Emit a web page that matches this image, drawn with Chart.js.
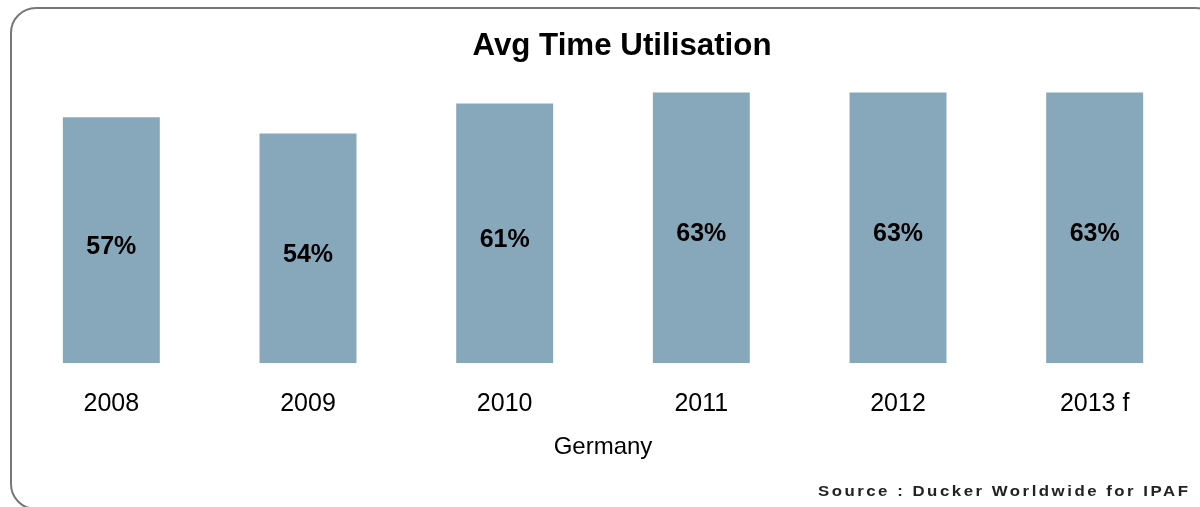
<!DOCTYPE html>
<html>
<head>
<meta charset="utf-8">
<script src="https://cdn.jsdelivr.net/npm/chart.js@4"></script>
<style>
  html, body { margin: 0; padding: 0; width: 1200px; height: 507px; overflow: hidden; background: #fff; }
  #frame { position: absolute; left: 10px; top: 7px; width: 1208px; height: 499px; border: 2px solid #777; border-radius: 26px; box-sizing: content-box; }
  #wrap { position: absolute; left: 0; top: 0; width: 1240px; height: 507px; }
  #source { position: absolute; right: 10px; top: 483px; font-family: 'Liberation Sans', Arial, sans-serif; font-weight: bold; font-size: 14px; letter-spacing: 2.1px; color: #222; transform: scaleX(1.2); transform-origin: right center; white-space: nowrap; }
</style>
</head>
<body>
<div id="frame"></div>
<div id="wrap"><canvas id="c" width="1240" height="507"></canvas></div>
<div id="source">Source : Ducker Worldwide for IPAF</div>
<script>
const categories = ['2008', '2009', '2010', '2011', '2012', '2013 f'];
const utilisation = [57.4, 53.6, 60.6, 63.2, 63.2, 63.2];
const chartTitle = 'Avg Time Utilisation';
const axisTitle = 'Germany';

const FONT = "'Liberation Sans', Arial, sans-serif";

const barLabels = {
  id: 'barLabels',
  afterDatasetsDraw(chart) {
    const ctx = chart.ctx;
    const meta = chart.getDatasetMeta(0);
    ctx.save();
    ctx.font = 'bold 25px ' + FONT;
    ctx.fillStyle = '#000';
    ctx.textAlign = 'center';
    ctx.textBaseline = 'middle';
    meta.data.forEach((bar, i) => {
      const v = chart.data.datasets[0].data[i];
      ctx.fillText(Math.round(v) + '%', bar.x, (bar.y + bar.base) / 2 + 6.5);
    });
    ctx.restore();
  }
};

new Chart(document.getElementById('c'), {
  type: 'bar',
  data: {
    labels: categories,
    datasets: [{
      data: utilisation,
      backgroundColor: '#87A7BA',
      borderWidth: 0,
      barPercentage: 0.493,
      categoryPercentage: 1.0
    }]
  },
  options: {
    responsive: false,
    animation: false,
    devicePixelRatio: 1,
    layout: { padding: { left: 13, right: 9, top: 28, bottom: 45.6 } },
    plugins: {
      legend: { display: false },
      tooltip: { enabled: false },
      title: {
        display: true,
        text: chartTitle,
        color: '#000',
        font: { family: FONT, size: 31.3, weight: 'bold', lineHeight: 1.2 },
        padding: { top: 0, bottom: 23.4 }
      }
    },
    scales: {
      x: {
        grid: { display: false, drawTicks: true, tickLength: 26.6 },
        border: { display: false },
        ticks: { color: '#000', font: { family: FONT, size: 25, lineHeight: 1.2 }, padding: 0, maxRotation: 0 },
        title: { display: true, text: axisTitle, color: '#000', font: { family: FONT, size: 24, lineHeight: 1.2 }, padding: { top: 13, bottom: 0 } }
      },
      y: {
        position: 'right',
        min: 0,
        max: 64,
        grid: { display: false },
        border: { display: false },
        ticks: { display: false },
        afterFit(scale) { scale.width = 38; }
      }
    }
  },
  plugins: [barLabels]
});
</script>
</body>
</html>
